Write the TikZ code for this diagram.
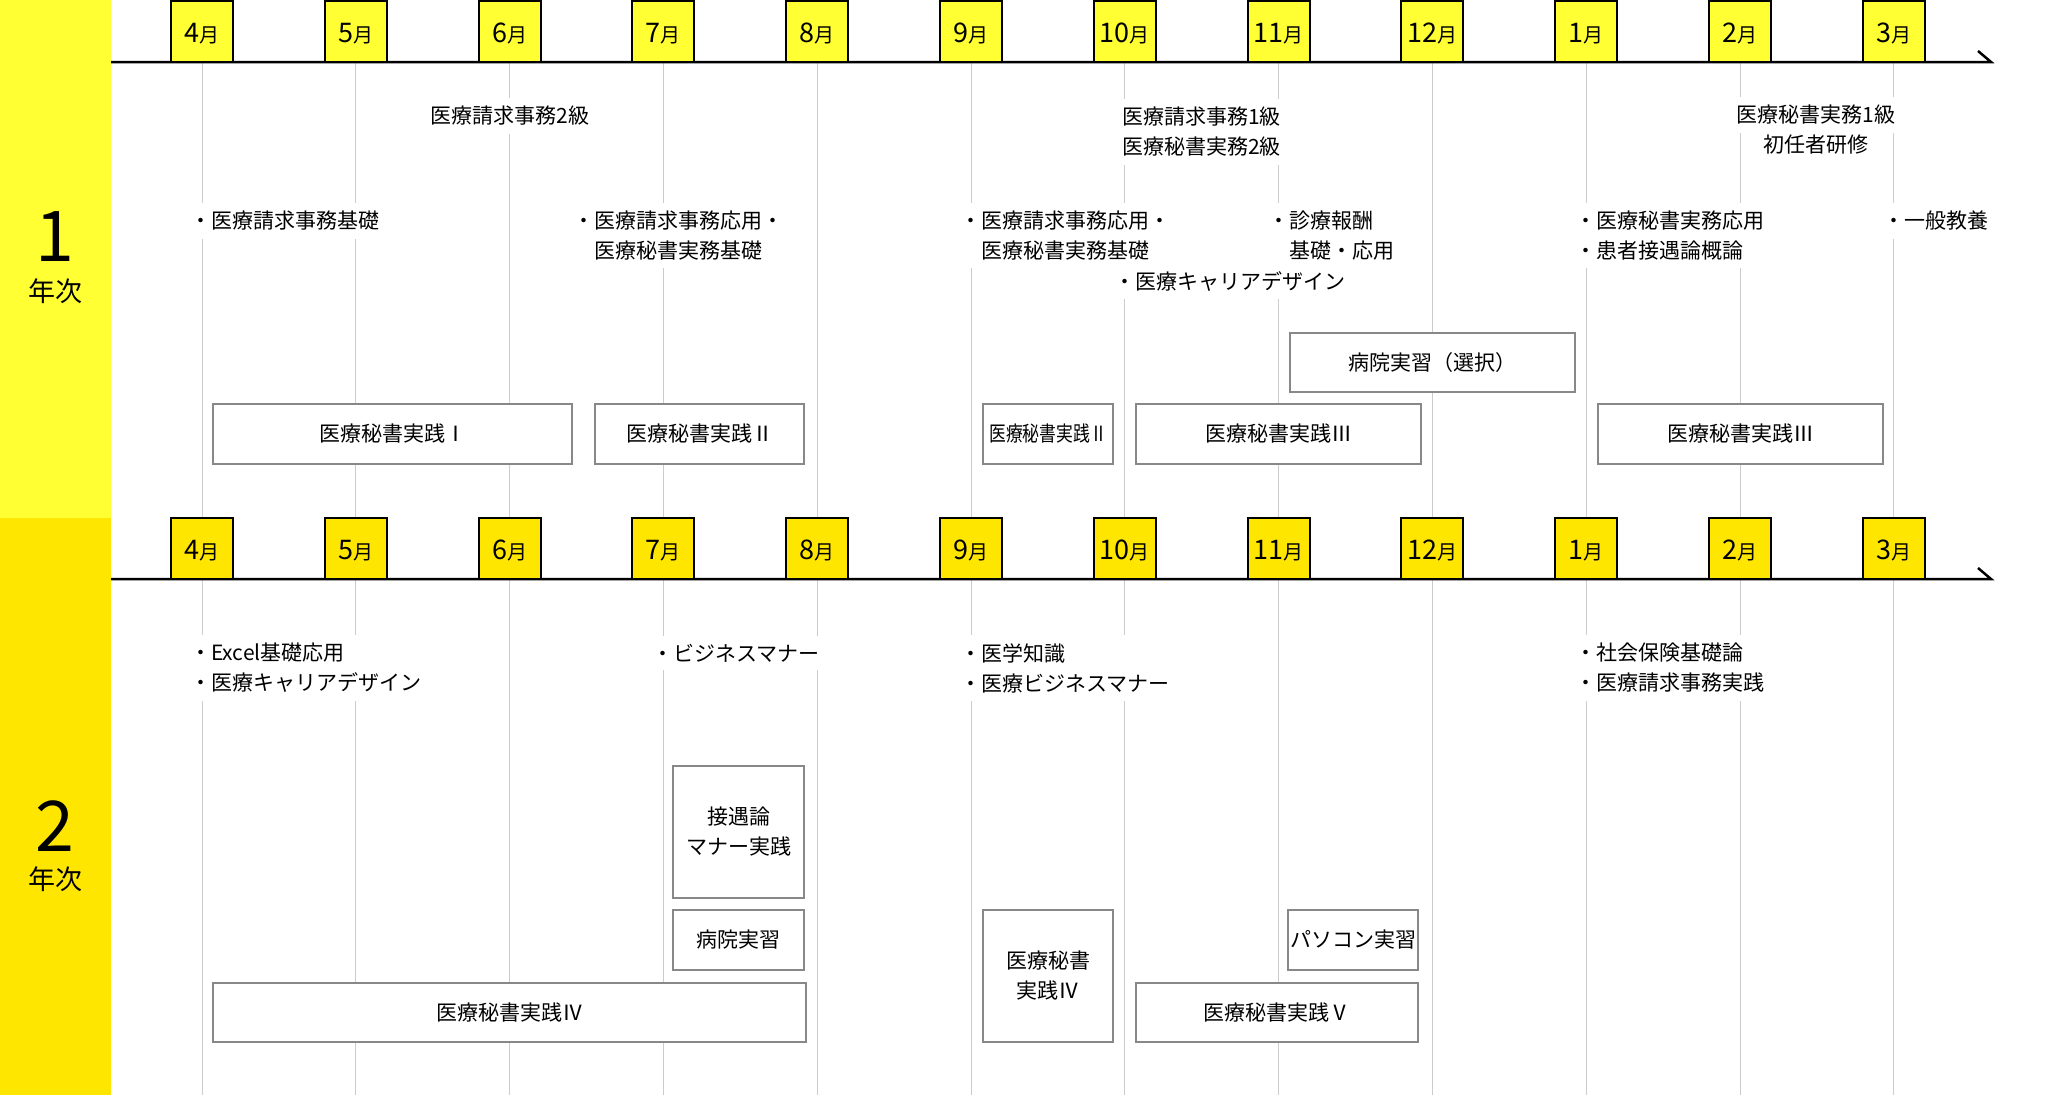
\documentclass[tikz,border=0pt]{standalone}
\usepackage{fontspec}
\setmainfont{Noto Sans CJK JP}
\definecolor{yA}{HTML}{FFFF33}
\definecolor{yB}{HTML}{FFE600}
\definecolor{gridc}{HTML}{CCCCCC}
\definecolor{boxc}{HTML}{888888}
\newcommand\tf{\fontsize{21}{30}\selectfont}
\newcommand\mlab[1]{{\fontsize{27}{27}\selectfont #1}{\fontsize{20}{20}\selectfont 月}}
\begin{document}
\begin{tikzpicture}[x=1pt,y=-1pt,
  gridline/.style={draw=gridc,line width=1pt},
  axisline/.style={draw=black,line width=2.5pt},
  monthbox/.style={draw=black,line width=2pt,minimum width=62pt,minimum height=61pt,inner sep=0pt,text height=21.5pt,text depth=0pt},
  freetext/.style={fill=white,inner xsep=3pt,inner ysep=8pt,font=\tf,align=left},
  course/.style={draw=boxc,line width=2pt,fill=white,inner sep=0pt,font=\tf,align=center},
  yearnum/.style={inner sep=0pt,font=\fontsize{70}{70}\selectfont},
  yeartxt/.style={inner sep=0pt,font=\fontsize{27}{27}\selectfont}]
\useasboundingbox (0,0) rectangle (2072,1095);
% side bands
\fill[yA] (0,0) rectangle (111,518);
\fill[yB] (0,518) rectangle (111,1095);
\node[yearnum] (y1n) at (55,237) {1};
\node[yeartxt] (y1t) at (55,291) {年次};
\node[yearnum] (y2n) at (55,826) {2};
\node[yeartxt] (y2t) at (55,879) {年次};
% grid lines
\foreach \m [count=\i from 0] in {4,5,6,7,8,9,10,11,12,1,2,3} {
  \pgfmathsetmacro\xx{202+153.8*\i}
  \draw[gridline] (\xx,62) -- (\xx,518);
  \draw[gridline] (\xx,579) -- (\xx,1095);
}
% axes
\coordinate (a1s) at (111,62); \coordinate (a1e) at (1991,62); \coordinate (a1t) at (1978,51);
\coordinate (a2s) at (111,579); \coordinate (a2e) at (1991,579); \coordinate (a2t) at (1978,568);
\draw[axisline] (a1s) -- (a1e) -- (a1t);
\draw[axisline] (a2s) -- (a2e) -- (a2t);
% month boxes
\foreach \m [count=\i from 0] in {4,5,6,7,8,9,10,11,12,1,2,3} {
  \pgfmathsetmacro\xx{202+153.8*\i}
  \node[monthbox,fill=yA] (ma\i) at (\xx,31.5) {\mlab{\m}};
  \node[monthbox,fill=yB] (mb\i) at (\xx,548.5) {\mlab{\m}};
}
% year 1 texts
\node[freetext,anchor=center] (t1) at (510,116) {医療請求事務2級};
\node[freetext,anchor=west] (t2) at (1119,132) {医療請求事務1級\\医療秘書実務2級};
\node[freetext,anchor=center] (t3a) at (1816,115) {医療秘書実務1級};
\node[freetext,anchor=center] (t3b) at (1816,145) {初任者研修};
\node[freetext,anchor=west] (t4) at (187,221) {・医療請求事務基礎};
\node[freetext,anchor=west] (t5) at (570,235.5) {・医療請求事務応用・\\\hphantom{・}医療秘書実務基礎};
\node[freetext,anchor=west] (t6) at (957,235.5) {・医療請求事務応用・\\\hphantom{・}医療秘書実務基礎};
\node[freetext,anchor=west] (t7) at (1265,235.5) {・診療報酬\\\hphantom{・}基礎・応用};
\node[freetext,anchor=west] (t8) at (1111,281) {・医療キャリアデザイン};
\node[freetext,anchor=west] (t9) at (1572,235.5) {・医療秘書実務応用\\・患者接遇論概論};
\node[freetext,anchor=west] (t10) at (1880,221) {・一般教養};
% year 1 course boxes
\node[course,minimum width=359pt,minimum height=60pt] (b1) at (392.5,434) {医療秘書実践Ⅰ};
\node[course,minimum width=209pt,minimum height=60pt] (b2) at (699.5,434) {医療秘書実践Ⅱ};
\node[course,minimum width=130pt,minimum height=60pt] (b3) at (1048,434) {\scalebox{0.8}[1]{医療秘書実践Ⅱ}};
\node[course,minimum width=285pt,minimum height=60pt] (b4) at (1278.5,434) {医療秘書実践Ⅲ};
\node[course,minimum width=285pt,minimum height=59pt] (b5) at (1432.5,362.5) {病院実習（選択）};
\node[course,minimum width=285pt,minimum height=60pt] (b6) at (1740.5,434) {医療秘書実践Ⅲ};
% year 2 texts
\node[freetext,anchor=west] (u1) at (187,668) {・Excel基礎応用\\・医療キャリアデザイン};
\node[freetext,anchor=west] (u2) at (649,653) {・ビジネスマナー};
\node[freetext,anchor=west] (u3) at (957,668) {・医学知識\\・医療ビジネスマナー};
\node[freetext,anchor=west] (u4) at (1572,668) {・社会保険基礎論\\・医療請求事務実践};
% year 2 course boxes
\node[course,minimum width=131pt,minimum height=132pt] (c1) at (738.5,832) {接遇論\\マナー実践};
\node[course,minimum width=131pt,minimum height=60pt] (c2) at (738.5,940) {病院実習};
\node[course,minimum width=593pt,minimum height=59pt] (c3) at (509.5,1012.5) {医療秘書実践Ⅳ};
\node[course,minimum width=130pt,minimum height=132pt] (c4) at (1048,976) {医療秘書\\実践Ⅳ};
\node[course,minimum width=130pt,minimum height=60pt] (c5) at (1353,940) {パソコン実習};
\node[course,minimum width=282pt,minimum height=59pt] (c6) at (1277,1012.5) {医療秘書実践Ⅴ};
\end{tikzpicture}
\end{document}
